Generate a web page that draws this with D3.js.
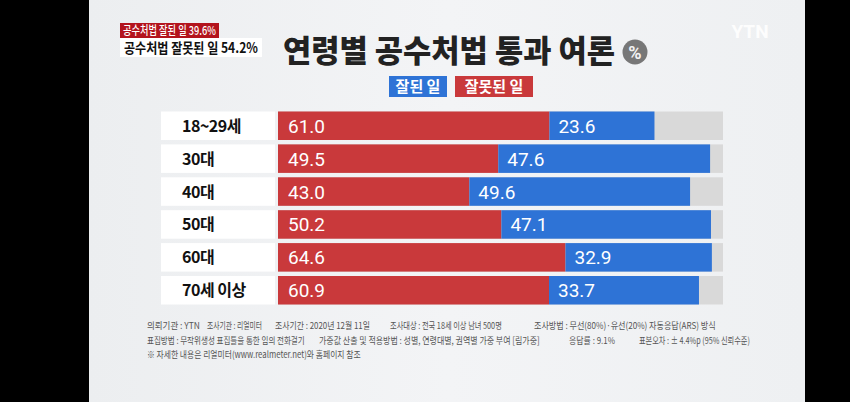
<!DOCTYPE html>
<html><head><meta charset="utf-8">
<script src="https://cdn.jsdelivr.net/npm/d3@7"></script>
<style>
html,body{margin:0;padding:0;background:#000;}
svg{display:block;}
</style></head>
<body>
<svg id="chart" width="850" height="402"></svg>
<script>
const categories = ["18~29세", "30대", "40대", "50대", "60대", "70세 이상"];
const wrongValues = [61.0, 49.5, 43.0, 50.2, 64.6, 60.9];   // 잘못된 일
const rightValues = [23.6, 47.6, 49.6, 47.1, 32.9, 33.7];   // 잘된 일
const legendLabels = ["잘된 일", "잘못된 일"];
const titleText = "연령별 공수처법 통과 여론";
const tagLines = ["공수처법 잘된 일 39.6%", "공수처법 잘못된 일 54.2%"];
const footerLines = [
  [["의뢰기관 : YTN",147,53],["조사기관 : 리얼미터",207,55],["조사기간 : 2020년 12월 11일",275,95],["조사대상 : 전국 18세 이상 남녀 500명",390,112],["조사방법 : 무선(80%)·유선(20%) 자동응답(ARS) 방식",534,182]],
  [["표집방법 : 무작위생성 표집틀을 통한 임의 전화걸기",147,158],["가중값 산출 및 적용방법 : 성별, 연령대별, 권역별 가중 부여 [림가중]",319,221],["응답률 : 9.1%",569,46],["표본오차 : ± 4.4%p (95% 신뢰수준)",639,111]],
  [["※ 자세한 내용은 리얼미터(www.realmeter.net)와 홈페이지 참조",147,214]]
];

const RED = "#c9393b", BLUE = "#2e73d6", GREY = "#d9d9d9";
const svg = d3.select("#chart");

const defs = svg.append("defs");
const g1 = defs.append("linearGradient").attr("id","bg").attr("x1",0).attr("x2",1).attr("y1",0).attr("y2",0);
g1.append("stop").attr("offset","0%").attr("stop-color","#eceef0");
g1.append("stop").attr("offset","50%").attr("stop-color","#f3f4f6");
g1.append("stop").attr("offset","100%").attr("stop-color","#eef0f2");
svg.append("rect").attr("x",0).attr("y",0).attr("width",850).attr("height",402).attr("fill","#000");
svg.append("rect").attr("x",89).attr("y",0).attr("width",716).attr("height",402).attr("fill","url(#bg)");

const KR = "'Noto Sans CJK KR','Noto Sans',sans-serif";

// helper: text squeezed horizontally to a given width via transform
function squeezed(parent, txt, x0, y0, width, attrs){
  const g = parent.append("g");
  const t = g.append("text").attr("x",0).attr("y",0).text(txt);
  Object.entries(attrs).forEach(([k,v])=>t.attr(k,v));
  const nat = t.node().getComputedTextLength();
  const sx = nat > 0 ? width/nat : 1;
  g.attr("transform",`translate(${x0},${y0}) scale(${sx},1)`);
  return g;
}

// YTN watermark
svg.append("text").attr("x",750).attr("y",38).attr("text-anchor","middle")
  .attr("font-family","Roboto,Arial,sans-serif").attr("font-weight",700).attr("font-size",19)
  .attr("fill","#ffffff").attr("opacity",0.9).text("YTN");

// top-left tags
svg.append("rect").attr("x",120).attr("y",23).attr("width",99).attr("height",15).attr("fill","#b3141d");
squeezed(svg, tagLines[0], 123, 35, 93, {"font-family":KR,"font-weight":500,"font-size":12,"fill":"#fff"});
svg.append("rect").attr("x",120).attr("y",38).attr("width",142).attr("height",19).attr("fill","#fff");
squeezed(svg, tagLines[1], 124, 53, 134, {"font-family":KR,"font-weight":700,"font-size":14,"fill":"#111"});

// title
squeezed(svg, titleText, 283, 62, 332, {"font-family":KR,"font-weight":900,"font-size":31,"fill":"#222"});
svg.append("circle").attr("cx",635).attr("cy",52).attr("r",12.5).attr("fill","#777");
svg.append("text").attr("x",635).attr("y",59).attr("text-anchor","middle").attr("font-family","Roboto,sans-serif")
  .attr("font-weight",700).attr("font-size",18).attr("fill","#f2f2f2").text("%");

// legend
const legend = [{t:legendLabels[0], c:BLUE, x:389, w:58},{t:legendLabels[1], c:RED, x:455, w:78}];
legend.forEach(d=>{
  svg.append("rect").attr("x",d.x).attr("y",76).attr("width",d.w).attr("height",21).attr("fill",d.c);
  svg.append("text").attr("x",d.x+d.w/2).attr("y",92).attr("text-anchor","middle").attr("font-family",KR)
    .attr("font-weight",700).attr("font-size",15).attr("fill","#fff").text(d.t);
});

// scales
const y = d3.scaleBand().domain(categories).range([111.5,304.5]).paddingInner(0.134).paddingOuter(0);
const x = d3.scaleLinear().domain([0,100]).range([278,723]);

const rows = svg.append("g").selectAll("g").data(categories.map((c,i)=>({c, w:wrongValues[i], r:rightValues[i]})))
  .join("g").attr("transform",d=>`translate(0,${y(d.c)})`);
const bh = y.bandwidth();

rows.append("rect").attr("x",161).attr("y",0).attr("width",114).attr("height",bh).attr("fill","#fff");
rows.append("text").attr("x",182).attr("y",bh/2+6).attr("font-family",KR).attr("font-weight",700)
  .attr("font-size",16).attr("fill","#111").attr("letter-spacing",-0.5).text(d=>d.c);

rows.append("rect").attr("x",x(0)).attr("y",0).attr("width",x(100)-x(0)).attr("height",bh).attr("fill",GREY);
rows.append("rect").attr("x",x(0)).attr("y",0).attr("width",d=>x(d.w)-x(0)).attr("height",bh).attr("fill",RED);
rows.append("rect").attr("x",d=>x(d.w)).attr("y",0).attr("width",d=>x(d.w+d.r)-x(d.w)).attr("height",bh).attr("fill",BLUE);

rows.append("text").attr("x",x(0)+10).attr("y",bh/2+7).attr("font-family","Roboto,sans-serif").attr("font-weight",400)
  .attr("font-size",19).attr("fill","#fff").text(d=>d.w.toFixed(1));
rows.append("text").attr("x",d=>x(d.w)+9).attr("y",bh/2+7).attr("font-family","Roboto,sans-serif").attr("font-weight",400)
  .attr("font-size",19).attr("fill","#fff").text(d=>d.r.toFixed(1));

// footer
const fy = [329, 344, 358];
footerLines.forEach((line,i)=>{
  line.forEach(([t,xx,w])=>{
    squeezed(svg, t, xx, fy[i], w, {"font-family":KR,"font-size":9.5,"fill":"#555"});
  });
});
</script>
</body></html>
